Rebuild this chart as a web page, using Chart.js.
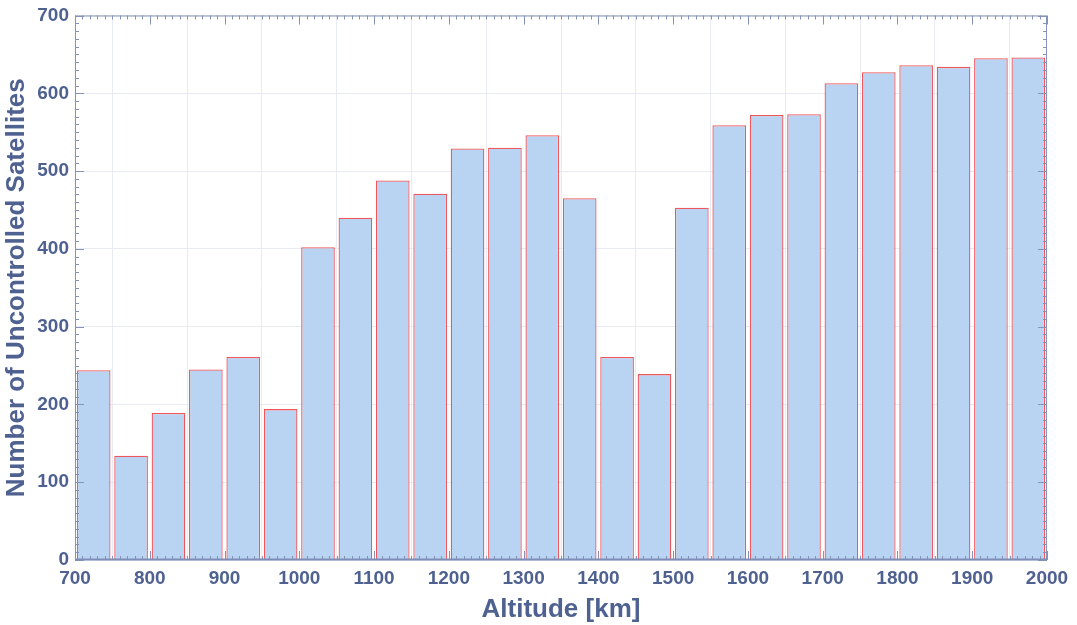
<!DOCTYPE html>
<html lang="en">
<head>
    <meta charset="UTF-8">
    <title>Uncontrolled Satellites by Altitude</title>
    <style>
        body {
            margin: 0;
            background-color: #fff;
        }

        .chart-box {
            width: 1077px;
            height: 625px;
        }
    </style>
</head>
<body>
    <div class="chart-box">
        <canvas id="altitude-chart" width="1077" height="625"></canvas>
    </div>

    <script src="https://cdn.jsdelivr.net/npm/chart.js"></script>
    <script>
        // bin centres (50 km wide bins, 700 - 2000 km)
        const binCenters = [725, 775, 825, 875, 925, 975, 1025, 1075, 1125, 1175, 1225, 1275, 1325,
                            1375, 1425, 1475, 1525, 1575, 1625, 1675, 1725, 1775, 1825, 1875, 1925, 1975];
        const satelliteCounts = [244, 134, 189, 245, 261, 194, 402, 440, 488, 471, 529, 530, 546,
                                 465, 261, 239, 453, 559, 572, 573, 613, 627, 636, 634, 645, 646];
        const xTicks = [700, 800, 900, 1000, 1100, 1200, 1300, 1400, 1500, 1600, 1700, 1800, 1900, 2000];
        const yTicks = [0, 100, 200, 300, 400, 500, 600, 700];

        const textColor = '#4e6190';
        const frameColor = '#8593b8';

        // frame around the plot with inward major / minor ticks
        const frameTicks = {
            id: 'frameTicks',
            afterDraw(chart) {
                const ctx = chart.ctx;
                const area = chart.chartArea;
                const xs = chart.scales.x;
                const ys = chart.scales.y;
                ctx.save();
                ctx.strokeStyle = frameColor;
                ctx.lineWidth = 1;
                ctx.strokeRect(area.left + 0.5, area.top + 0.5, area.right - area.left - 1, area.bottom - area.top - 1);

                ctx.beginPath();
                for (let v = xs.min; v <= xs.max; v += 10) {
                    const px = Math.round(xs.getPixelForValue(v)) + 0.5;
                    const len = v % 100 === 0 ? 9 : 4;
                    ctx.moveTo(px, area.top);
                    ctx.lineTo(px, area.top + len);
                    ctx.moveTo(px, area.bottom);
                    ctx.lineTo(px, area.bottom - len);
                }
                for (let v = ys.min; v <= ys.max; v += 10) {
                    const py = Math.round(ys.getPixelForValue(v)) + 0.5;
                    const len = v % 100 === 0 ? 9 : 4;
                    ctx.moveTo(area.left, py);
                    ctx.lineTo(area.left + len, py);
                    ctx.moveTo(area.right, py);
                    ctx.lineTo(area.right - len, py);
                }
                ctx.stroke();

                // darker baseline
                ctx.strokeStyle = '#7d8db5';
                ctx.lineWidth = 2;
                ctx.beginPath();
                ctx.moveTo(area.left, area.bottom - 0.5);
                ctx.lineTo(area.right, area.bottom - 0.5);
                ctx.stroke();
                ctx.restore();
            }
        };

        const ctx = document.getElementById('altitude-chart').getContext('2d');
        new Chart(ctx, {
            type: 'bar',
            data: {
                datasets: [{
                    label: 'Uncontrolled satellites',
                    data: binCenters.map((x, i) => ({ x: x, y: satelliteCounts[i] })),
                    backgroundColor: '#b9d4f2',
                    borderColor: '#f0565a',
                    borderWidth: 1.3,
                    barPercentage: 0.9,
                    categoryPercentage: 1.0
                }]
            },
            plugins: [frameTicks],
            options: {
                responsive: false,
                animation: false,
                layout: {
                    autoPadding: false,
                    padding: { top: 15, right: 30, left: 1, bottom: 0 }
                },
                plugins: {
                    legend: { display: false },
                    tooltip: { enabled: false }
                },
                scales: {
                    x: {
                        type: 'linear',
                        offset: false,
                        min: 700,
                        max: 2000,
                        afterBuildTicks: (scale) => {
                            scale.ticks = xTicks.map(v => ({ value: v }));
                        },
                        afterFit: (scale) => {
                            scale.height = 65;
                        },
                        grid: {
                            color: '#e8ebf3',
                            drawTicks: false
                        },
                        border: { display: false },
                        ticks: {
                            color: textColor,
                            padding: 7,
                            maxRotation: 0,
                            callback: (v) => String(v),
                            font: { family: 'Liberation Sans', size: 19, weight: 'bold' }
                        },
                        title: {
                            display: true,
                            text: 'Altitude [km]',
                            color: textColor,
                            padding: { top: 0, bottom: 0 },
                            font: { family: 'Liberation Sans', size: 26, weight: 'bold' }
                        }
                    },
                    y: {
                        min: 0,
                        max: 700,
                        afterBuildTicks: (scale) => {
                            scale.ticks = yTicks.map(v => ({ value: v }));
                        },
                        afterFit: (scale) => {
                            scale.width = 74;
                        },
                        grid: {
                            color: '#e8ebf3',
                            drawTicks: false
                        },
                        border: { display: false },
                        ticks: {
                            color: textColor,
                            padding: 6,
                            callback: (v) => String(v),
                            font: { family: 'Liberation Sans', size: 19, weight: 'bold', lineHeight: 1 }
                        },
                        title: {
                            display: true,
                            text: 'Number of Uncontrolled Satellites',
                            color: textColor,
                            padding: { top: 0, bottom: 2 },
                            font: { family: 'Liberation Sans', size: 26, weight: 'bold' }
                        }
                    }
                }
            }
        });
    </script>
</body>
</html>
